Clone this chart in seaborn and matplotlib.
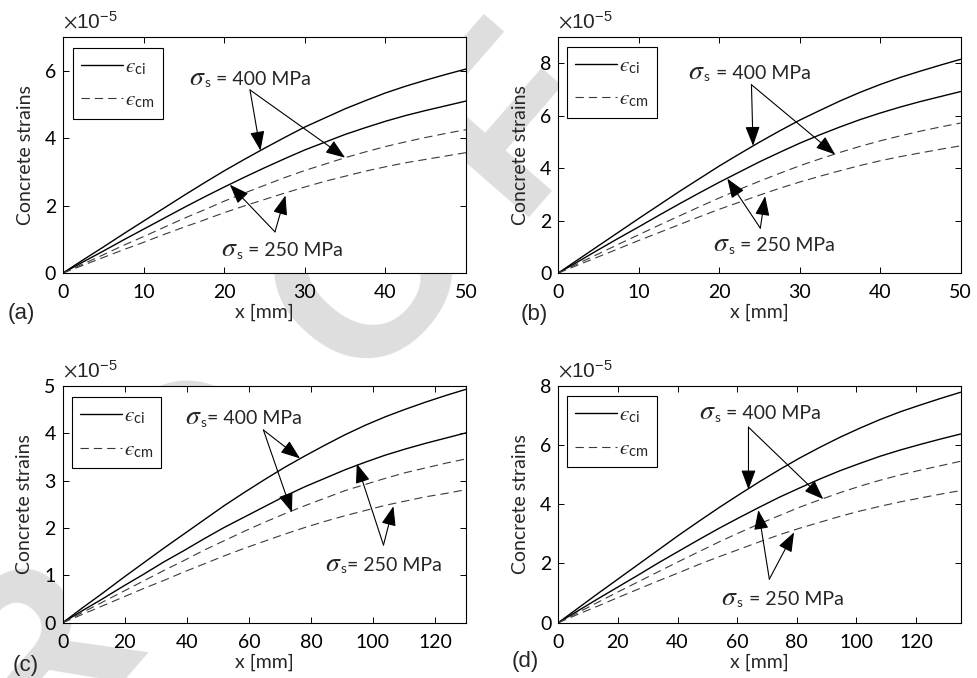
import numpy as np
import pandas as pd
import matplotlib
matplotlib.use("Agg")
import matplotlib.pyplot as plt
from matplotlib.patches import ArrowStyle
from matplotlib.offsetbox import TextArea, HPacker, AnnotationBbox
import seaborn as sns

# ---------------- data (strains in units of 1e-5) ----------------
XA = [0, 2.5, 5, 7.5, 10, 12.5, 15, 17.5, 20, 22.5, 25, 27.5, 30, 32.5, 35, 37.5, 40, 42.5, 45, 47.5, 50]
A_ci_400 = [0, .39, .77, 1.16, 1.54, 1.92, 2.30, 2.67, 3.03, 3.37, 3.70, 4.02, 4.33, 4.60, 4.87, 5.11, 5.34, 5.54, 5.72, 5.89, 6.05]
A_ci_250 = [0, .33, .65, .98, 1.30, 1.62, 1.94, 2.25, 2.55, 2.84, 3.12, 3.39, 3.65, 3.88, 4.11, 4.31, 4.50, 4.67, 4.82, 4.96, 5.10]
A_cm_400 = [0, .27, .54, .82, 1.08, 1.35, 1.62, 1.87, 2.13, 2.37, 2.60, 2.83, 3.04, 3.23, 3.42, 3.59, 3.75, 3.89, 4.02, 4.14, 4.25]
A_cm_250 = [0, .23, .46, .69, .91, 1.14, 1.36, 1.57, 1.79, 1.99, 2.18, 2.37, 2.55, 2.72, 2.87, 3.02, 3.15, 3.27, 3.37, 3.47, 3.57]

XB = [0, 2.5, 5, 7.5, 10, 12.5, 15, 17.5, 20, 22.5, 25, 27.5, 30, 32.5, 35, 37.5, 40, 42.5, 45, 47.5, 50]
B_ci_400 = [0, .52, 1.04, 1.56, 2.08, 2.59, 3.10, 3.59, 4.08, 4.54, 4.99, 5.42, 5.83, 6.20, 6.56, 6.89, 7.19, 7.46, 7.70, 7.93, 8.15]
B_ci_250 = [0, .44, .89, 1.33, 1.76, 2.20, 2.63, 3.05, 3.46, 3.85, 4.24, 4.60, 4.95, 5.27, 5.57, 5.85, 6.10, 6.33, 6.54, 6.73, 6.92]
B_cm_400 = [0, .37, .73, 1.10, 1.46, 1.82, 2.17, 2.52, 2.86, 3.19, 3.50, 3.80, 4.09, 4.35, 4.60, 4.83, 5.04, 5.23, 5.41, 5.57, 5.72]
B_cm_250 = [0, .31, .62, .93, 1.24, 1.54, 1.84, 2.14, 2.43, 2.70, 2.97, 3.23, 3.47, 3.69, 3.90, 4.10, 4.28, 4.44, 4.58, 4.72, 4.85]

XC = [0, 6.5, 13, 19.5, 26, 32.5, 39, 45.5, 52, 58.5, 65, 71.5, 78, 84.5, 91, 97.5, 104, 110.5, 117, 123.5, 130]
C_ci_400 = [0, .32, .63, .95, 1.26, 1.57, 1.87, 2.17, 2.47, 2.75, 3.02, 3.28, 3.52, 3.75, 3.97, 4.17, 4.35, 4.51, 4.66, 4.80, 4.93]
C_ci_250 = [0, .26, .51, .77, 1.02, 1.28, 1.52, 1.77, 2.01, 2.23, 2.45, 2.67, 2.87, 3.05, 3.23, 3.39, 3.54, 3.67, 3.79, 3.90, 4.01]
C_cm_400 = [0, .22, .44, .66, .88, 1.10, 1.31, 1.53, 1.73, 1.93, 2.12, 2.30, 2.47, 2.63, 2.79, 2.92, 3.05, 3.17, 3.27, 3.37, 3.46]
C_cm_250 = [0, .18, .36, .54, .72, .89, 1.07, 1.24, 1.41, 1.57, 1.72, 1.87, 2.01, 2.14, 2.26, 2.37, 2.48, 2.57, 2.66, 2.73, 2.81]

XD = [0, 6.75, 13.5, 20.25, 27, 33.75, 40.5, 47.25, 54, 60.75, 67.5, 74.25, 81, 87.75, 94.5, 101.25, 108, 114.75, 121.5, 128.25, 135]
D_ci_400 = [0, .50, 1.00, 1.49, 1.98, 2.47, 2.96, 3.43, 3.89, 4.33, 4.76, 5.17, 5.56, 5.92, 6.26, 6.57, 6.86, 7.12, 7.35, 7.57, 7.78]
D_ci_250 = [0, .41, .82, 1.22, 1.62, 2.03, 2.42, 2.81, 3.19, 3.55, 3.90, 4.24, 4.55, 4.85, 5.13, 5.38, 5.62, 5.83, 6.02, 6.20, 6.37]
D_cm_400 = [0, .35, .70, 1.05, 1.39, 1.73, 2.07, 2.40, 2.73, 3.04, 3.34, 3.62, 3.90, 4.15, 4.39, 4.61, 4.81, 4.99, 5.15, 5.30, 5.45]
D_cm_250 = [0, .29, .57, .86, 1.14, 1.42, 1.69, 1.97, 2.23, 2.48, 2.73, 2.97, 3.19, 3.39, 3.59, 3.77, 3.93, 4.08, 4.21, 4.34, 4.46]

PANEL_LABELS = ["(a)", "(b)", "(c)", "(d)"]
LEGEND_LABELS = ["$\u03f5_{\\mathregular{ci}}$", "$\u03f5_{\\mathregular{cm}}$"]
XLABEL = "x [mm]"
YLABEL = "Concrete strains"
SIGMA = r"$\sigma$"
SUB_S = r"${}_{\mathregular{s}}$"

# ---------------- style ----------------
sns.set_style("ticks")
MAIN = "Lato"
plt.rcParams["font.family"] = [MAIN, "DejaVu Sans"]
plt.rcParams["mathtext.fontset"] = "stix"
plt.rcParams["axes.linewidth"] = 0.8

W, H = 977, 678
fig = plt.figure(figsize=(W / 100, H / 100), dpi=100)
fig.patch.set_facecolor("white")

def fx(px):
    return px / W

def fy(py):
    return 1 - py / H

# watermark (behind the axes)
wm = [("F", 561, 160), ("O", 425, 317), ("O", 251, 517), ("R", 89, 703), ("P", -67, 882)]
for ch, px, py in wm:
    fig.text(fx(px), fy(py), ch, rotation=49, rotation_mode="anchor", ha="center",
             va="baseline", fontsize=176, fontweight="bold", family="Liberation Sans",
             color="#dedede", zorder=-10)

panels = [
    dict(rect=(63, 37, 466, 273), x=XA, ys=[A_ci_400, A_ci_250, A_cm_400, A_cm_250],
         xlim=(0, 50), ylim=(0, 7), xt=range(0, 51, 10), yt=[0, 2, 4, 6],
         t400=(23.2, 5.82), s400=(23.2, 5.43), tips400=[(24.5, 3.63), (35.0, 3.42)],
         t250=(27.2, 0.74), s250=(26.3, 1.22), tips250=[(20.7, 2.62), (27.6, 2.30)],
         leg=(0.025, 0.955), lab=(8, 314), eq=" = "),
    dict(rect=(558.3, 37, 960.7, 273), x=XB, ys=[B_ci_400, B_ci_250, B_cm_400, B_cm_250],
         xlim=(0, 50), ylim=(0, 9), xt=range(0, 51, 10), yt=[0, 2, 4, 6, 8],
         t400=(23.75, 7.72), s400=(24.0, 7.18), tips400=[(24.2, 4.85), (34.4, 4.52)],
         t250=(26.8, 1.13), s250=(25.1, 1.71), tips250=[(21.0, 3.60), (25.7, 2.93)],
         leg=(0.021, 0.959), lab=(521, 315), eq=" = "),
    dict(rect=(62.7, 386, 466, 622.7), x=XC, ys=[C_ci_400, C_ci_250, C_cm_400, C_cm_250],
         xlim=(0, 130), ylim=(0, 5), xt=range(0, 121, 20), yt=[0, 1, 2, 3, 4, 5],
         t400=(58.3, 4.37), s400=(64.7, 4.07), tips400=[(76.5, 3.47), (73.9, 2.33)],
         t250=(103.4, 1.27), s250=(103.4, 1.64), tips250=[(94.8, 3.36), (106.6, 2.46)],
         leg=(0.022, 0.954), lab=(13, 665), eq="= "),
    dict(rect=(558.3, 385.7, 960.7, 622.7), x=XD, ys=[D_ci_400, D_ci_250, D_cm_400, D_cm_250],
         xlim=(0, 135), ylim=(0, 8), xt=range(0, 121, 20), yt=[0, 2, 4, 6, 8],
         t400=(67.7, 7.13), s400=(63.8, 6.60), tips400=[(63.8, 4.50), (88.9, 4.17)],
         t250=(75.2, 0.88), s250=(70.8, 1.47), tips250=[(67.1, 3.80), (79.1, 3.05)],
         leg=(0.021, 0.955), lab=(512, 662), eq=" = "),
]

TXT = 14
arrow = ArrowStyle("-|>", head_length=0.75, head_width=0.28)


def sigma_label(ax, pos, rest):
    sig = HPacker(children=[TextArea(SIGMA, textprops=dict(fontsize=20)),
                            TextArea(SUB_S, textprops=dict(fontsize=TXT))],
                  align="baseline", pad=0, sep=-1.5)
    box = HPacker(children=[sig, TextArea(rest, textprops=dict(fontsize=TXT))],
                  align="baseline", pad=0, sep=0)
    ab = AnnotationBbox(box, pos, xycoords="data", frameon=False,
                        box_alignment=(0.5, 0.5), pad=0)
    ax.add_artist(ab)


for i, p in enumerate(panels):
    l, t, r, b = p["rect"]
    ax = fig.add_axes([fx(l), fy(b), (r - l) / W, (b - t) / H])
    ax.set_facecolor("white")
    for j, yv in enumerate(p["ys"]):
        df = pd.DataFrame({"x": p["x"], "y": yv})
        if j < 2:
            sns.lineplot(data=df, x="x", y="y", ax=ax, color="black", lw=1.0,
                         estimator=None, sort=False)
        else:
            sns.lineplot(data=df, x="x", y="y", ax=ax, color="#3a3a3a", lw=0.8,
                         estimator=None, sort=False)
            ax.lines[-1].set_linestyle((0, (7.5, 4.5)))
    handles = [ax.lines[0], ax.lines[2]]
    ax.set_xlim(*p["xlim"])
    ax.set_ylim(*p["ylim"])
    ax.set_xticks(list(p["xt"]))
    ax.set_yticks(p["yt"])
    ax.tick_params(which="both", direction="in", length=4.5, width=0.7,
                   top=True, right=True, labelsize=TXT, colors="black")
    ax.tick_params(axis="x", pad=8)
    ax.tick_params(axis="y", pad=5)
    for s in ax.spines.values():
        s.set_visible(True)
        s.set_color("black")
        s.set_linewidth(0.8)
    ax.set_xlabel(XLABEL, fontsize=TXT, labelpad=2)
    ax.set_ylabel(YLABEL, fontsize=TXT, labelpad=8)
    ax.text(0.0, 1.02, r"$\times\mathregular{10^{-5}}$", transform=ax.transAxes,
            ha="left", va="bottom", fontsize=15, family="Liberation Sans")
    leg = ax.legend(handles, LEGEND_LABELS, loc="upper left", bbox_to_anchor=p["leg"],
                    borderaxespad=0, fontsize=TXT + 1, frameon=True, fancybox=False,
                    edgecolor="black", framealpha=1, handlelength=2.0, handletextpad=0.1,
                    labelspacing=0.62, borderpad=0.4)
    leg.get_frame().set_linewidth(0.8)
    # annotations
    sigma_label(ax, p["t400"], p["eq"] + "400 MPa")
    sigma_label(ax, p["t250"], p["eq"] + "250 MPa")
    for start, tips in ((p["s400"], p["tips400"]), (p["s250"], p["tips250"])):
        for tip in tips:
            ax.annotate("", xy=tip, xytext=start,
                        arrowprops=dict(arrowstyle=arrow, color="black", lw=0.8,
                                        mutation_scale=16, shrinkA=0, shrinkB=0))
    fig.text(fx(p["lab"][0]), fy(p["lab"][1]), PANEL_LABELS[i], ha="left", va="center",
             fontsize=16, family="Liberation Sans")

fig.savefig("out.png", dpi=100, facecolor="white")
